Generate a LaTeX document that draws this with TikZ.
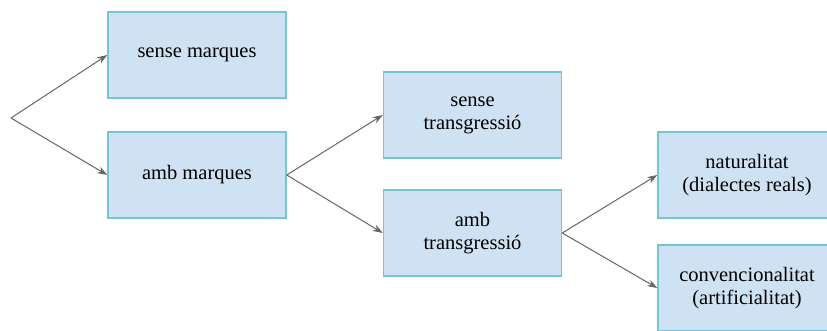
\documentclass[tikz,border=0pt]{standalone}
\usepackage{fontspec}
\setmainfont{Liberation Serif}
\usetikzlibrary{arrows.meta}
\definecolor{boxfill}{HTML}{CFE2F3}
\definecolor{boxline}{HTML}{76C5D0}
\definecolor{arrowgray}{HTML}{666666}
\begin{document}
\begin{tikzpicture}[x=1pt,y=-1pt,
  box/.style={draw=boxline,line width=1.5pt,fill=boxfill,minimum width=178pt,minimum height=86pt,
    inner sep=0pt,align=center,font=\fontsize{20.5}{23}\selectfont,text=black},
  conn/.style={draw=arrowgray,line width=1pt,-{Stealth[length=10pt,width=7pt]}}]
\useasboundingbox (0,0) rectangle (827,331);
\clip (0,0) rectangle (827,331);
\node[box] (sm) at (197,55) {sense marques};
\node[box] (am) at (197,175) {amb marques};
\node[box] (st) at (472.5,115) {sense\\transgressió};
\node[box] (at) at (472.5,233) {amb\\transgressió};
\node[box] (nat) at (747,175) {naturalitat\\(dialectes reals)};
\node[box] (conv) at (747,288) {convencionalitat\\(artificialitat)};
\coordinate (root) at (11,118);
\draw[conn] (root) -- (sm.west);
\draw[conn] (root) -- (am.west);
\draw[conn] (am.east) -- (st.west);
\draw[conn] (am.east) -- (at.west);
\draw[conn] (at.east) -- (nat.west);
\draw[conn] (at.east) -- (conv.west);
\end{tikzpicture}
\end{document}
